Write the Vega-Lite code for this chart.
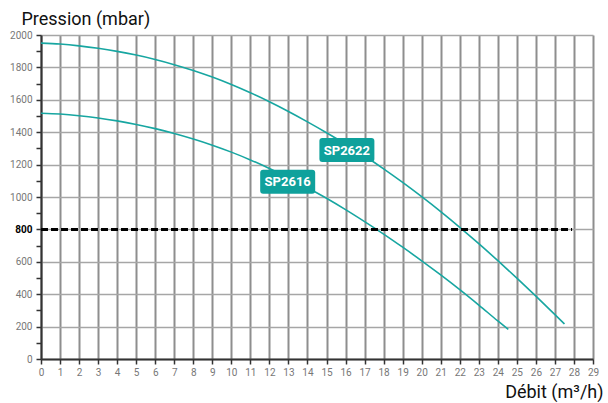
{
  "$schema": "https://vega.github.io/schema/vega-lite/v6.json",
  "width": 552,
  "height": 324,
  "autosize": "none",
  "padding": {"left": 41, "top": 35, "right": 15, "bottom": 44},
  "background": "white",
  "config": {
    "font": "Roboto",
    "view": {"stroke": null}
  },
  "datasets": {
    "curves": [
      {"debit": 0, "pression": 1950, "pompe": "SP2622"},
      {"debit": 1, "pression": 1944, "pompe": "SP2622"},
      {"debit": 2, "pression": 1933, "pompe": "SP2622"},
      {"debit": 3, "pression": 1918, "pompe": "SP2622"},
      {"debit": 4, "pression": 1899, "pompe": "SP2622"},
      {"debit": 5, "pression": 1876, "pompe": "SP2622"},
      {"debit": 6, "pression": 1849, "pompe": "SP2622"},
      {"debit": 7, "pression": 1817, "pompe": "SP2622"},
      {"debit": 8, "pression": 1781, "pompe": "SP2622"},
      {"debit": 9, "pression": 1740, "pompe": "SP2622"},
      {"debit": 10, "pression": 1694, "pompe": "SP2622"},
      {"debit": 11, "pression": 1643, "pompe": "SP2622"},
      {"debit": 12, "pression": 1588, "pompe": "SP2622"},
      {"debit": 13, "pression": 1528, "pompe": "SP2622"},
      {"debit": 14, "pression": 1464, "pompe": "SP2622"},
      {"debit": 15, "pression": 1397, "pompe": "SP2622"},
      {"debit": 16, "pression": 1327, "pompe": "SP2622"},
      {"debit": 17, "pression": 1253, "pompe": "SP2622"},
      {"debit": 18, "pression": 1174, "pompe": "SP2622"},
      {"debit": 19, "pression": 1090, "pompe": "SP2622"},
      {"debit": 20, "pression": 1002, "pompe": "SP2622"},
      {"debit": 21, "pression": 910, "pompe": "SP2622"},
      {"debit": 22, "pression": 813, "pompe": "SP2622"},
      {"debit": 23, "pression": 712, "pompe": "SP2622"},
      {"debit": 24, "pression": 607, "pompe": "SP2622"},
      {"debit": 25, "pression": 499, "pompe": "SP2622"},
      {"debit": 26, "pression": 388, "pompe": "SP2622"},
      {"debit": 27, "pression": 274, "pompe": "SP2622"},
      {"debit": 27.5, "pression": 216, "pompe": "SP2622"},
      {"debit": 0, "pression": 1517, "pompe": "SP2616"},
      {"debit": 1, "pression": 1512, "pompe": "SP2616"},
      {"debit": 2, "pression": 1502, "pompe": "SP2616"},
      {"debit": 3, "pression": 1488, "pompe": "SP2616"},
      {"debit": 4, "pression": 1470, "pompe": "SP2616"},
      {"debit": 5, "pression": 1448, "pompe": "SP2616"},
      {"debit": 6, "pression": 1422, "pompe": "SP2616"},
      {"debit": 7, "pression": 1392, "pompe": "SP2616"},
      {"debit": 8, "pression": 1358, "pompe": "SP2616"},
      {"debit": 9, "pression": 1320, "pompe": "SP2616"},
      {"debit": 10, "pression": 1277, "pompe": "SP2616"},
      {"debit": 11, "pression": 1229, "pompe": "SP2616"},
      {"debit": 12, "pression": 1176, "pompe": "SP2616"},
      {"debit": 13, "pression": 1119, "pompe": "SP2616"},
      {"debit": 14, "pression": 1057, "pompe": "SP2616"},
      {"debit": 15, "pression": 992, "pompe": "SP2616"},
      {"debit": 16, "pression": 922, "pompe": "SP2616"},
      {"debit": 17, "pression": 848, "pompe": "SP2616"},
      {"debit": 18, "pression": 771, "pompe": "SP2616"},
      {"debit": 19, "pression": 690, "pompe": "SP2616"},
      {"debit": 20, "pression": 606, "pompe": "SP2616"},
      {"debit": 21, "pression": 519, "pompe": "SP2616"},
      {"debit": 22, "pression": 428, "pompe": "SP2616"},
      {"debit": 23, "pression": 333, "pompe": "SP2616"},
      {"debit": 24, "pression": 235, "pompe": "SP2616"},
      {"debit": 24.55, "pression": 183, "pompe": "SP2616"}
    ],
    "seuil": [
      {"debit": 0, "pression": 800},
      {"debit": 27.9, "pression": 800}
    ],
    "etiquettes": [
      {"debit": 16.07, "pression": 1290, "pompe": "SP2622"},
      {"debit": 12.96, "pression": 1094, "pompe": "SP2616"}
    ]
  },
  "encoding": {
    "x": {
      "field": "debit", "type": "quantitative",
      "scale": {"domain": [0, 29], "nice": false, "zero": false},
      "axis": {
        "values": [0,0.5,1,1.5,2,2.5,3,3.5,4,4.5,5,5.5,6,6.5,7,7.5,8,8.5,9,9.5,10,10.5,11,11.5,12,12.5,13,13.5,14,14.5,15,15.5,16,16.5,17,17.5,18,18.5,19,19.5,20,20.5,21,21.5,22,22.5,23,23.5,24,24.5,25,25.5,26,26.5,27,27.5,28,28.5,29],
        "format": "d",
        "labelExpr": "datum.value % 1 == 0 ? datum.label : ''",
        "labelFlush": false,
        "labelOverlap": false,
        "labelFontSize": 10,
        "labelColor": "#777777",
        "labelPadding": 3,
        "tickSize": 5,
        "tickColor": "#333333",
        "tickWidth": 1.5,
        "domainColor": "#333333",
        "domainWidth": 2,
        "grid": true,
        "gridColor": "#8e8e8e",
        "gridWidth": 2,
        "gridOpacity": {"condition": {"test": "datum.value % 1 == 0", "value": 1}, "value": 0},
        "title": "Débit (m³/h)",
        "titleFontSize": 18,
        "titleFontWeight": "normal",
        "titleColor": "#111111",
        "titleAlign": "right",
        "titleBaseline": "alphabetic",
        "titleX": 562,
        "titleY": 38
      }
    },
    "y": {
      "field": "pression", "type": "quantitative",
      "scale": {"domain": [0, 2000], "nice": false},
      "axis": {
        "values": [0,100,200,300,400,500,600,700,800,900,1000,1100,1200,1300,1400,1500,1600,1700,1800,1900,2000],
        "labelExpr": "datum.value % 200 == 0 ? datum.label : ''",
        "format": "d",
        "labelOverlap": false,
        "labelFlush": false,
        "labelFontSize": 10,
        "labelColor": {"condition": {"test": "datum.value == 800", "value": "#000000"}, "value": "#777777"},
        "labelFontWeight": {"condition": {"test": "datum.value == 800", "value": "bold"}, "value": "normal"},
        "labelPadding": 4,
        "tickSize": 5,
        "tickColor": "#333333",
        "tickWidth": 1.5,
        "domainColor": "#333333",
        "domainWidth": 2,
        "grid": true,
        "gridColor": "#a6a6a6",
        "gridWidth": 1.5,
        "gridOpacity": {"condition": {"test": "datum.value % 200 == 0", "value": 1}, "value": 0},
        "title": "Pression (mbar)",
        "titleFontSize": 18,
        "titleFontWeight": "normal",
        "titleColor": "#111111",
        "titleAngle": 0,
        "titleAlign": "left",
        "titleBaseline": "alphabetic",
        "titleX": -20,
        "titleY": -11
      }
    }
  },
  "layer": [
    {
      "data": {"name": "curves"},
      "mark": {"type": "line", "color": "#17a6a1", "strokeWidth": 1.6, "interpolate": "monotone"},
      "encoding": {
        "detail": {"field": "pompe"}
      }
    },
    {
      "data": {"name": "seuil"},
      "mark": {"type": "line", "color": "#000000", "strokeWidth": 3, "strokeDash": [7, 3]},
      "encoding": {}
    },
    {
      "data": {"name": "etiquettes"},
      "mark": {
        "type": "point",
        "filled": true,
        "opacity": 1,
        "color": "#0fa19c",
        "strokeWidth": 0,
        "size": 3025,
        "shape": "M-0.89,-0.436 L0.89,-0.436 Q1,-0.436 1,-0.327 L1,0.327 Q1,0.436 0.89,0.436 L-0.89,0.436 Q-1,0.436 -1,0.327 L-1,-0.327 Q-1,-0.436 -0.89,-0.436 Z"
      },
      "encoding": {}
    },
    {
      "data": {"name": "etiquettes"},
      "mark": {"type": "text", "color": "white", "fontWeight": "bold", "fontSize": 13, "font": "Roboto", "align": "center", "baseline": "middle", "dy": 0.5},
      "encoding": {
        "text": {"field": "pompe"}
      }
    }
  ]
}
